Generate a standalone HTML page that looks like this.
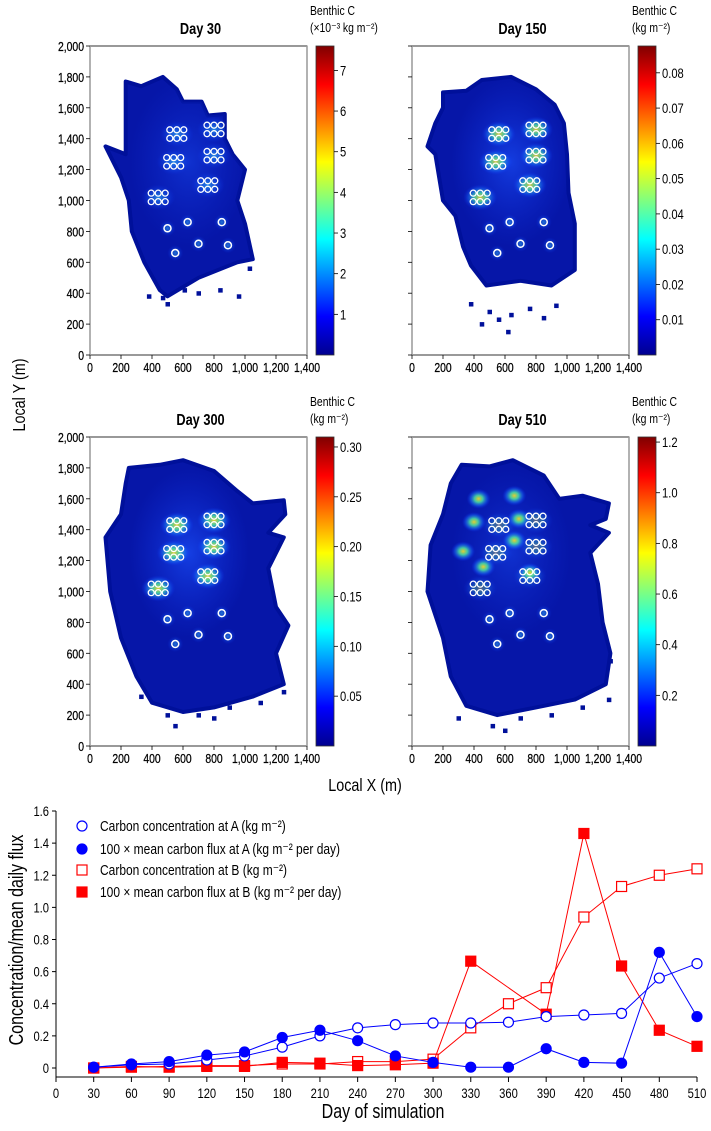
<!DOCTYPE html>
<html><head><meta charset="utf-8">
<style>
html,body{margin:0;padding:0;background:#fff;}
svg{display:block;font-family:"Liberation Sans Narrow","Liberation Sans",sans-serif;}
</style></head>
<body>
<svg id="fig" width="711" height="1131" viewBox="0 0 711 1131" xmlns="http://www.w3.org/2000/svg">
<defs id="defs">
<linearGradient id="jet" x1="0" y1="1" x2="0" y2="0">
<stop offset="0" stop-color="#00008f"/><stop offset="0.125" stop-color="#0000ff"/>
<stop offset="0.375" stop-color="#00ffff"/><stop offset="0.625" stop-color="#ffff00"/>
<stop offset="0.875" stop-color="#ff0000"/><stop offset="1" stop-color="#800000"/>
</linearGradient>
<radialGradient id="glowC"><stop offset="0" stop-color="#40d8ff" stop-opacity="0.95"/><stop offset="0.5" stop-color="#1c7cff" stop-opacity="0.6"/><stop offset="1" stop-color="#0a2cff" stop-opacity="0"/></radialGradient>
<radialGradient id="glowY"><stop offset="0" stop-color="#ffe020" stop-opacity="1"/><stop offset="0.35" stop-color="#50f0a0" stop-opacity="0.9"/><stop offset="0.7" stop-color="#1c7cff" stop-opacity="0.5"/><stop offset="1" stop-color="#0a2cff" stop-opacity="0"/></radialGradient>
<radialGradient id="glowWide"><stop offset="0" stop-color="#1848f0" stop-opacity="0.9"/><stop offset="1" stop-color="#1030e0" stop-opacity="0"/></radialGradient>
</defs>
<g id="maps"></g>
<g id="chart"></g>
</svg>
<script>
// ---------- bottom chart data ----------
const days = [30,60,90,120,150,180,210,240,270,300,330,360,390,420,450,480,510];
const concA = [0.005,0.02,0.025,0.05,0.075,0.13,0.2,0.25,0.27,0.28,0.28,0.285,0.32,0.33,0.34,0.56,0.65];
const fluxA = [0.005,0.025,0.04,0.08,0.1,0.19,0.235,0.17,0.075,0.035,0.005,0.005,0.12,0.035,0.03,0.72,0.32];
const concB = [0,0.005,0.01,0.015,0.015,0.025,0.025,0.04,0.04,0.055,0.25,0.4,0.5,0.94,1.13,1.2,1.24];
const fluxBDays = [30,60,90,120,150,180,210,240,270,300,330,390,420,450,480,510];
const fluxB = [0,0.01,0.005,0.01,0.01,0.035,0.03,0.015,0.02,0.03,0.665,0.335,1.46,0.635,0.235,0.135];
const xTicks = [0,30,60,90,120,150,180,210,240,270,300,330,360,390,420,450,480,510];
const yTicks = [0,0.2,0.4,0.6,0.8,1.0,1.2,1.4,1.6];
const yTickLabels = ["0","0.2","0.4","0.6","0.8","1.0","1.2","1.4","1.6"];

// ---------- map data ----------
const mapTitles = ["Day 30","Day 150","Day 300","Day 510"];
const cbMax = [7.6,0.0876,0.31,1.22];
const cbTicks = [[1,2,3,4,5,6,7],[0.01,0.02,0.03,0.04,0.05,0.06,0.07,0.08],[0.05,0.10,0.15,0.20,0.25,0.30],[0.2,0.4,0.6,0.8,1.0,1.2]];
const cbLabels = [["1","2","3","4","5","6","7"],["0.01","0.02","0.03","0.04","0.05","0.06","0.07","0.08"],["0.05","0.10","0.15","0.20","0.25","0.30"],["0.2","0.4","0.6","0.8","1.0","1.2"]];
const cbUnit = ["(\u00d710\u207b\u00b3 kg m\u207b\u00b2)","(kg m\u207b\u00b2)","(kg m\u207b\u00b2)","(kg m\u207b\u00b2)"];
const outlines = [
 [[230,1770],[330,1740],[470,1800],[560,1720],[600,1640],[720,1640],[760,1550],[870,1560],[870,1400],[920,1300],[1000,1200],[950,1000],[1000,850],[1050,620],[950,600],[700,500],[500,380],[450,420],[350,600],[270,800],[250,1000],[200,1150],[100,1350],[230,1300],[230,1500]],
 [[200,1700],[350,1710],[450,1780],[640,1800],[800,1720],[920,1620],[980,1500],[1000,1300],[1010,1050],[1050,850],[1050,550],[900,450],[700,480],[480,450],[380,580],[330,700],[280,900],[200,1000],[150,1300],[100,1350],[150,1500],[200,1600]],
 [[250,1800],[450,1820],[600,1850],[800,1780],[950,1650],[1050,1570],[1250,1590],[1260,1500],[1150,1380],[1250,1350],[1150,1150],[1200,900],[1280,780],[1200,600],[1250,400],[1050,320],[800,250],[600,220],[400,280],[300,450],[200,700],[130,1000],[100,1350],[200,1500],[230,1700]],
 [[320,1820],[500,1810],[650,1850],[850,1750],[950,1600],[1100,1620],[1270,1570],[1250,1470],[1150,1430],[1270,1380],[1150,1250],[1200,1050],[1230,800],[1280,600],[1250,400],[1050,300],[800,250],[550,200],[350,260],[250,450],[200,700],[100,1000],[120,1300],[200,1500],[250,1700]]
];
const scatter = [
 [[380,380],[470,370],[610,420],[700,400],[840,420],[960,380],[1030,560],[500,330]],
 [[380,330],[500,280],[560,230],[640,260],[760,300],[850,240],[930,320],[450,200],[620,150]],
 [[330,320],[500,200],[700,200],[900,250],[1100,280],[1250,350],[550,130],[800,180]],
 [[300,180],[520,130],[700,180],[900,200],[1100,250],[1270,300],[1280,550],[600,100]]
];
const clusters = [[560,1430],[800,1460],[540,1250],[800,1290],[760,1100],[440,1020]];
const singles = [[500,820],[630,860],[850,860],[700,720],[890,710],[550,660]];
const glowStrength = [0.6,0.85,0.9,0.6];
const hotSpots510 = [[430,1600],[660,1620],[400,1450],[690,1470],[660,1330],[330,1260],[460,1160],[760,1120]];

const NS = "http://www.w3.org/2000/svg";
const COND = 0.8;
function mk(tag, attrs, parent){const e=document.createElementNS(NS,tag);for(const k in attrs)e.setAttribute(k,attrs[k]);parent.appendChild(e);return e;}
function txt(s, attrs, parent, rot){
  const x=attrs.x||0,y=attrs.y||0;delete attrs.x;delete attrs.y;
  attrs.transform="translate("+x+","+y+")"+(rot?" rotate(-90)":"")+" scale("+COND+",1)";
  const e=mk("text",attrs,parent);e.textContent=s;return e;}

const defs=document.getElementById("defs");
const maps=document.getElementById("maps");
const panelL=[90,412,90,412], panelT=[46,46,437,437], PW=217, PH=309;
for(let p=0;p<4;p++){
  const L=panelL[p],T=panelT[p];
  const sx=v=>L+v/1400*PW, sy=v=>T+PH-v/2000*PH;
  const g=mk("g",{},maps);
  
  
  const pts=outlines[p].map(q=>sx(q[0]).toFixed(1)+","+sy(q[1]).toFixed(1)).join(" ");
  const cp=mk("clipPath",{id:"clip"+p},defs);
  mk("polygon",{points:pts},cp);
  const pl=mk("polygon",{points:pts,fill:"#0616a8",stroke:"#00109a","stroke-width":4,"stroke-linejoin":"round"},g);
  
  
  scatter[p].forEach(q=>{mk("rect",{x:sx(q[0])-2,y:sy(q[1])-2,width:4.5,height:4.5,fill:"#00109a"},g);});
  const gg=mk("g",{"clip-path":"url(#clip"+p+")"},g);
  mk("ellipse",{cx:sx(640),cy:sy(1250),rx:60,ry:85,fill:"url(#glowWide)",opacity:glowStrength[p]},gg);
  clusters.forEach(c=>{mk("ellipse",{cx:sx(c[0]),cy:sy(c[1]),rx:17,ry:13,fill:p==0?"url(#glowC)":"url(#glowY)",opacity:p==3?0.35:glowStrength[p]},gg);});
  if(p==3){hotSpots510.forEach(c=>{mk("ellipse",{cx:sx(c[0]),cy:sy(c[1]),rx:12,ry:10,fill:"url(#glowY)",opacity:0.9},gg);});}
  singles.forEach(c=>{mk("ellipse",{cx:sx(c[0]),cy:sy(c[1]),rx:8,ry:8,fill:"url(#glowC)",opacity:0.5},gg);});
  clusters.forEach(c=>{for(let i=0;i<3;i++)for(let j=0;j<2;j++){
    const r=mk("circle",{cx:sx(c[0]+(i-1)*45),cy:sy(c[1]+(j-0.5)*55),r:3,fill:"none",stroke:"#fff","stroke-width":1.3},g);
    
    }});
  singles.forEach(c=>{
    const r=mk("circle",{cx:sx(c[0]),cy:sy(c[1]),r:3.5,fill:"none",stroke:"#fff","stroke-width":1.5},g);
    
    });
  mk("rect",{x:L,y:T,width:PW,height:PH,fill:"none",stroke:"#000","stroke-width":0.8},g);
  mk("line",{x1:L+PW,y1:T,x2:L+PW,y2:T+PH,stroke:"#999","stroke-width":1.5},g);
  mk("line",{x1:L,y1:T,x2:L,y2:T+PH,stroke:"#999","stroke-width":1.5},g);
  for(let v=0;v<=1400;v+=200){
    mk("line",{x1:sx(v),y1:T+PH,x2:sx(v),y2:T+PH+4,stroke:"#000","stroke-width":0.8},g);
    const t=txt(v>=1000?(v/1000|0)+","+String(v%1000).padStart(3,"0"):String(v),{x:sx(v),y:T+PH+17,"font-size":13,"text-anchor":"middle","stroke":"#000","stroke-width":0.25},g);
    
    
  }
  for(let v=0;v<=2000;v+=200){
    mk("line",{x1:L-4,y1:sy(v),x2:L,y2:sy(v),stroke:"#000","stroke-width":0.8},g);
    if(p%2==0){const t=txt(v>=1000?(v/1000|0)+","+String(v%1000).padStart(3,"0"):String(v),{x:L-6,y:sy(v)+5,"font-size":13,"text-anchor":"end","stroke":"#000","stroke-width":0.25},g);
    
    }
  }
  const tt=txt(mapTitles[p],{x:L+PW/2+2,y:T-12,"font-size":16,"font-weight":"bold","text-anchor":"middle"},g);
  
  
  const cx=L+226,cw=18;
  const cb=mk("rect",{x:cx,y:T,width:cw,height:PH,fill:"url(#jet)",stroke:"#333","stroke-width":0.8},g);
  
  
  cbTicks[p].forEach((v,i)=>{const y=T+PH-v/cbMax[p]*PH;
    mk("line",{x1:cx+cw,y1:y,x2:cx+cw+4,y2:y,stroke:"#000","stroke-width":0.8},g);
    const t=txt(cbLabels[p][i],{x:cx+cw+6,y:y+5,"font-size":14},g);
    
    });
  const c1=txt("Benthic C",{x:cx-6,y:T-31,"font-size":13},g);
  
  
  const c2=txt(cbUnit[p],{x:cx-6,y:T-14,"font-size":13},g);
  
  
}
let t1=txt("Local Y (m)",{x:25,y:395,"font-size":18,"text-anchor":"middle"},maps,true);


let t2=txt("Local X (m)",{x:365,y:791,"font-size":18,"text-anchor":"middle"},maps);



// ---------- bottom line chart ----------
const ch=document.getElementById("chart");
const X0=56,X1=697,Y0=1068,Y1=811;
const xs=d=>X0+d/510*(X1-X0), ys=v=>Y0-v/1.6*(Y0-Y1);
mk("line",{x1:X0,y1:Y0+9,x2:X1,y2:Y0+9,stroke:"#000","stroke-width":1},ch);
mk("line",{x1:X0,y1:Y1,x2:X0,y2:Y0+9,stroke:"#000","stroke-width":1},ch);
xTicks.forEach(d=>{mk("line",{x1:xs(d),y1:Y0+9,x2:xs(d),y2:Y0+14,stroke:"#000"},ch);
  const t=txt(String(d),{x:xs(d),y:Y0+30,"font-size":14,"text-anchor":"middle"},ch);
  
  });
yTicks.forEach((v,i)=>{mk("line",{x1:X0-4,y1:ys(v),x2:X0,y2:ys(v),stroke:"#000"},ch);
  const t=txt(yTickLabels[i],{x:X0-7,y:ys(v)+5,"font-size":14,"text-anchor":"end"},ch);
  
  });
let xt=txt("Day of simulation",{x:383,y:1118,"font-size":20,"text-anchor":"middle"},ch);


let yt=txt("Concentration/mean daily flux",{x:23,y:940,"font-size":20,"text-anchor":"middle"},ch,true);



function series(dd,vals,color,shape,filled,name){
  const g=mk("g",{},ch);
  
  
  mk("polyline",{points:dd.map((d,i)=>xs(d)+","+ys(vals[i])).join(" "),fill:"none",stroke:color,"stroke-width":1},g);
  dd.forEach((d,i)=>{const x=xs(d),y=ys(vals[i]);let m;
    if(shape=="c")m=mk("circle",{cx:x,cy:y,r:5,fill:filled?color:"#fff",stroke:color,"stroke-width":1.2},g);
    else m=mk("rect",{x:x-5,y:y-5,width:10,height:10,fill:filled?color:"#fff",stroke:color,"stroke-width":1.2},g);
    
    });
}
series(days,concB,"#ff0000","s",false,"conc-b-series");
series(fluxBDays,fluxB,"#ff0000","s",true,"flux-b-series");
series(days,concA,"#0000ff","c",false,"conc-a-series");
series(days,fluxA,"#0000ff","c",true,"flux-a-series");

const leg=[["Carbon concentration at A (kg m\u207b\u00b2)","#0000ff","c",false],["100 \u00d7 mean carbon flux at A (kg m\u207b\u00b2 per day)","#0000ff","c",true],["Carbon concentration at B (kg m\u207b\u00b2)","#ff0000","s",false],["100 \u00d7 mean carbon flux at B (kg m\u207b\u00b2 per day)","#ff0000","s",true]];
const legY=[826,849,870,892];
leg.forEach((l,i)=>{const g=mk("g",{},ch);
  
  
  const x=82,y=legY[i];
  if(l[2]=="c")mk("circle",{cx:x,cy:y,r:5,fill:l[3]?l[1]:"#fff",stroke:l[1],"stroke-width":1.2},g);
  else mk("rect",{x:x-5,y:y-5,width:10,height:10,fill:l[3]?l[1]:"#fff",stroke:l[1],"stroke-width":1.2},g);
  txt(l[0],{x:100,y:y+5,"font-size":15},g);});
</script>
</body></html>
